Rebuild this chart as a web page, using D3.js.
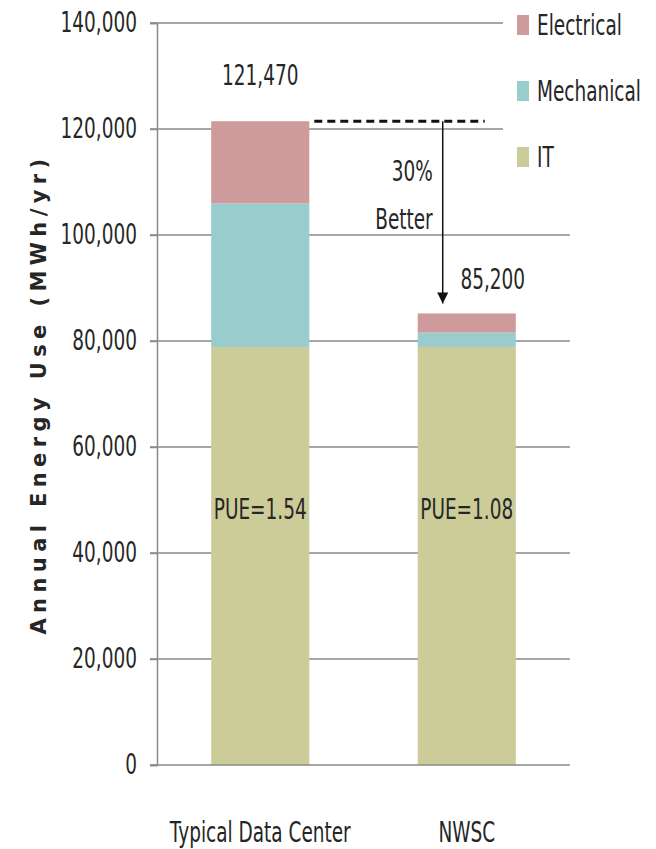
<!DOCTYPE html>
<html>
<head>
<meta charset="utf-8">
<script src="https://cdn.jsdelivr.net/npm/d3@7"></script>
<style>
  html, body { margin: 0; padding: 0; background: #fff; }
  svg { display: block; }
</style>
</head>
<body>
<svg id="chart" width="656" height="849"></svg>
<script>
// Annual energy use by component, MWh/yr
const categories = ["Typical Data Center", "NWSC"];
const seriesNames = ["IT", "Mechanical", "Electrical"];
const itValues = [78877, 78890];
const mechanicalValues = [27100, 2700];
const electricalValues = [15493, 3610];
const totalLabels = ["121,470", "85,200"];
const pueLabels = ["PUE=1.54", "PUE=1.08"];
const yTicks = [0, 20000, 40000, 60000, 80000, 100000, 120000, 140000];
const legendOrder = ["Electrical", "Mechanical", "IT"];
const annotationLines = ["30%", "Better"];

const colors = { IT: "#cccc99", Mechanical: "#99cccc", Electrical: "#cf9a9b" };
const FONT = "'DejaVu Sans', sans-serif";
const FS = 28;        // label font size
const SX = 0.66;      // horizontal squeeze for the narrow label face
const TEXT = "#262626";

const svg = d3.select("#chart");

// narrow text: placed with a transform so the glyphs can be condensed
function label(parent, x, y, str, anchor) {
  return parent.append("text")
    .attr("transform", `translate(${x},${y}) scale(${SX},1)`)
    .attr("text-anchor", anchor || "middle")
    .attr("font-family", FONT).attr("font-size", FS).attr("fill", TEXT)
    .text(str);
}

const rows = categories.map((c, i) => ({
  category: c,
  IT: itValues[i],
  Mechanical: mechanicalValues[i],
  Electrical: electricalValues[i]
}));

const x = d3.scaleBand().domain(categories).range([157, 570])
  .paddingInner(0.525).paddingOuter(0.2625);
const y = d3.scaleLinear().domain([0, 140000]).range([765, 23]);

// horizontal gridlines
svg.append("g").selectAll("line").data(yTicks.filter(t => t > 0)).join("line")
  .attr("x1", 150).attr("x2", 570)
  .attr("y1", d => y(d)).attr("y2", d => y(d))
  .attr("stroke", "#8a8a8a").attr("stroke-width", 1.5);

// y axis
const yAxis = d3.axisLeft(y).tickValues(yTicks).tickSize(7).tickPadding(13)
  .tickFormat(d3.format(","));
const gy = svg.append("g").attr("transform", "translate(157,0)").call(yAxis);
gy.select(".domain").attr("stroke", "#8a8a8a").attr("stroke-width", 1.5);
gy.selectAll(".tick line").attr("stroke", "#8a8a8a").attr("stroke-width", 1.5);
gy.selectAll(".tick text")
  .attr("font-family", FONT).attr("font-size", FS).attr("fill", TEXT)
  .attr("x", -20 / SX)
  .attr("transform", `scale(${SX},1)`);

// stacked bars
const layers = d3.stack().keys(seriesNames)(rows);
svg.append("g").selectAll("g").data(layers).join("g")
  .attr("fill", d => colors[d.key])
  .selectAll("rect").data(d => d).join("rect")
  .attr("x", d => x(d.data.category))
  .attr("width", x.bandwidth())
  .attr("y", d => y(d[1]))
  .attr("height", d => y(d[0]) - y(d[1]));

// x axis baseline
svg.append("line")
  .attr("x1", 150).attr("x2", 570).attr("y1", y(0)).attr("y2", y(0))
  .attr("stroke", "#8a8a8a").attr("stroke-width", 1.5);

// category labels
const labels = svg.append("g");
categories.forEach(c => label(labels, x(c) + x.bandwidth() / 2, 842, c));

// totals above bars
const totals = rows.map(r => r.IT + r.Mechanical + r.Electrical);
const labelShift = [0, 26];
const labelLift = [36, 24];
totals.forEach((t, i) =>
  label(labels, x(categories[i]) + x.bandwidth() / 2 + labelShift[i], y(t) - labelLift[i], totalLabels[i]));

// PUE labels inside IT segment
pueLabels.forEach((p, i) =>
  label(labels, x(categories[i]) + x.bandwidth() / 2, y(46500), p));

// dashed reference line at the typical total
const typicalTop = y(totals[0]);
const arrowX = x(categories[1]) + x.bandwidth() * 0.255;
svg.append("line")
  .attr("x1", x(categories[0]) + x.bandwidth() + 5)
  .attr("x2", arrowX + 42)
  .attr("y1", typicalTop).attr("y2", typicalTop)
  .attr("stroke", "#111").attr("stroke-width", 3)
  .attr("stroke-dasharray", "8,5");

// arrow down to NWSC total
svg.append("defs").append("marker")
  .attr("id", "arrowhead").attr("viewBox", "0 0 10 10")
  .attr("refX", 10).attr("refY", 5)
  .attr("markerWidth", 16).attr("markerHeight", 11)
  .attr("markerUnits", "userSpaceOnUse")
  .attr("orient", "auto")
  .append("path").attr("d", "M0,0 L10,5 L0,10 Z").attr("fill", "#111");
svg.append("line")
  .attr("x1", arrowX).attr("x2", arrowX)
  .attr("y1", typicalTop).attr("y2", y(totals[1]) - 10)
  .attr("stroke", "#111").attr("stroke-width", 1.5)
  .attr("marker-end", "url(#arrowhead)");

annotationLines.forEach((s, i) => label(labels, arrowX - 10, 181 + i * 48, s, "end"));

// legend
const legend = svg.append("g");
legend.append("rect").attr("x", 503).attr("y", 0).attr("width", 153).attr("height", 200)
  .attr("fill", "#fff");
legendOrder.forEach((k, i) => {
  const cy = 25 + i * 66;
  legend.append("rect").attr("x", 517).attr("y", cy - 10).attr("width", 12).attr("height", 20)
    .attr("fill", colors[k]);
  label(legend, 537, cy + 10, k, "start");
});

// y axis title
svg.append("text")
  .attr("transform", "translate(46,394) rotate(-90)")
  .attr("text-anchor", "middle")
  .attr("font-family", "'DejaVu Sans', sans-serif").attr("font-weight", "bold")
  .attr("font-size", 21).attr("letter-spacing", 5.4).attr("fill", TEXT)
  .text("Annual Energy Use (MWh/yr)");
</script>
</body>
</html>
